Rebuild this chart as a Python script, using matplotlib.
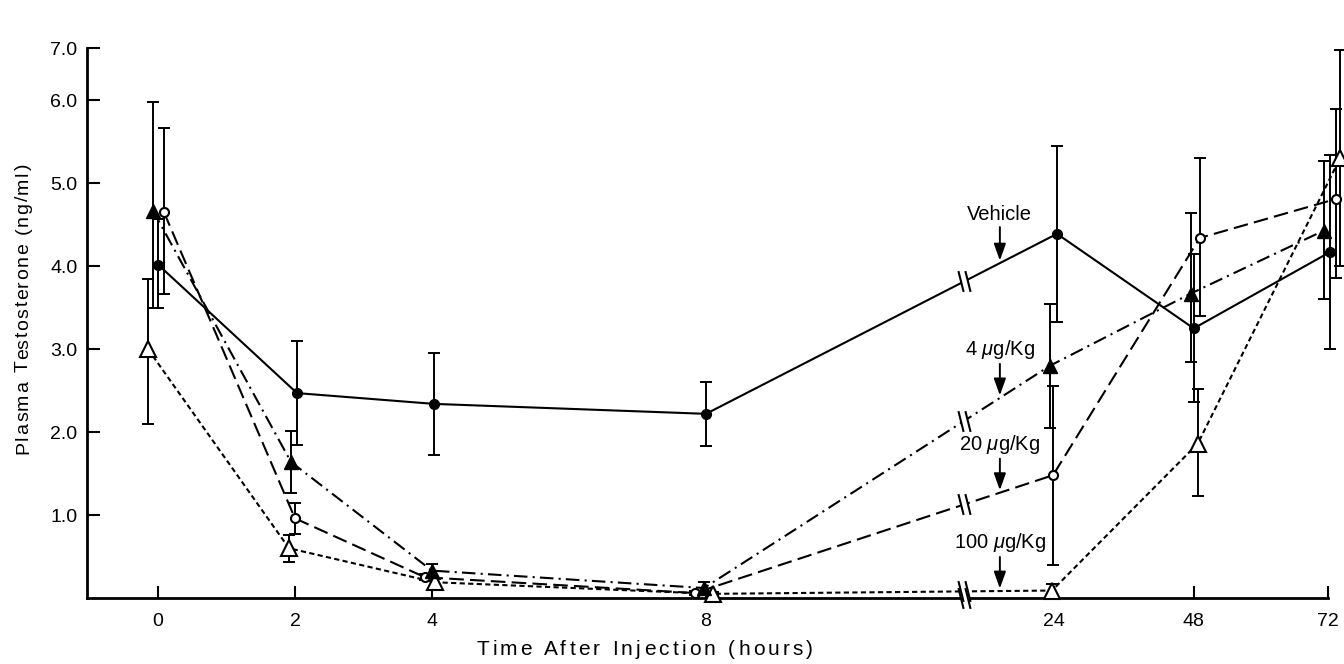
import numpy as np
import matplotlib
matplotlib.use("Agg")
import matplotlib.pyplot as plt
from matplotlib.path import Path
from matplotlib.font_manager import FontProperties

plt.rcParams['font.family'] = ['Liberation Sans', 'DejaVu Sans']
plt.rcParams['mathtext.fontset'] = 'custom'
plt.rcParams['mathtext.it'] = 'Liberation Sans:italic'
plt.rcParams['mathtext.rm'] = 'Liberation Sans'

# ---------------- data ----------------
times = [0, 2, 4, 8, 24, 48, 72]
tick_labels = ['0', '2', '4', '8', '24', '48', '72']

vehicle_mean = [4.02, 2.47, 2.34, 2.22, 4.39, 3.25, 4.17]
vehicle_lo = [3.50, 1.84, 1.72, 1.83, 3.33, 2.36, 3.00]
vehicle_hi = [4.57, 3.10, 2.95, 2.60, 5.45, 4.15, 5.34]

dose4_mean = [4.67, 1.64, 0.33, 0.12, 2.80, 3.67, 4.43]
dose4_lo = [3.50, 1.26, 0.26, 0.05, 2.05, 2.84, 3.60]
dose4_hi = [5.98, 2.01, 0.41, 0.19, 3.55, 4.64, 5.27]

dose20_mean = [4.65, 0.96, 0.25, 0.06, 1.48, 4.34, 4.81]
dose20_lo = [3.67, 0.77, 0.22, 0.04, 0.40, 3.40, 3.86]
dose20_hi = [5.67, 1.14, 0.29, 0.08, 2.56, 5.30, 5.90]

dose100_mean = [3.00, 0.60, 0.19, 0.05, 0.09, 1.86, 5.30]
dose100_lo = [2.10, 0.43, 0.15, 0.03, 0.02, 1.23, 4.00]
dose100_hi = [3.84, 0.76, 0.23, 0.07, 0.17, 2.52, 6.60]

series_labels = ['Vehicle', '4 $\\mu$g/Kg', '20 $\\mu$g/Kg', '100 $\\mu$g/Kg']
x_title = 'Time After Injection (hours)'
y_title = 'Plasma Testosterone (ng/ml)'

# ---------------- layout ----------------
# broken time axis: display position of each sampled time
time_pos = np.array([0, 2, 4, 8, 13.08, 15.12, 17.08])
px = 1 / 68.5  # axis units per pixel
vehicle_off = np.array([0, 2, 2, 0, 3, 0, 2]) * px
dose4_off = np.array([-5, -4, 0, -2, -4, -3, -4]) * px
dose20_off = np.array([6, 0, -7, -11, -1, 6, 8]) * px
dose100_off = np.array([-10, -6, 3, 7, -2, 4, 12]) * px
break_pos = 11.77
arrow_pos = 12.29

W, H = 1344, 664
fig = plt.figure(figsize=(W / 100, H / 100), dpi=100)
ax = fig.add_axes([87 / W, (H - 598) / H, (1328 - 87) / W, (598 - 48) / H])
ax.set_xlim(-1.036, 17.08)
ytop = 6.63
ax.set_ylim(0, ytop)

lw = 1.5
styles = [
    dict(ls='-', marker='o', ms=7, mfc='black', mec='black'),
    dict(ls=(0, (6.5, 2.5, 1, 2.5)), marker='^', ms=10.5, mfc='black', mec='black'),
    dict(ls=(0, (7, 3)), marker='o', ms=6.5, mfc='white', mec='black', mew=1.5),
    dict(ls=(0, (2.5, 1.6)), marker='^', ms=11, mfc='white', mec='black', mew=1.5),
]
means = [vehicle_mean, dose4_mean, dose20_mean, dose100_mean]
los = [vehicle_lo, dose4_lo, dose20_lo, dose100_lo]
his = [vehicle_hi, dose4_hi, dose20_hi, dose100_hi]
offs = [vehicle_off, dose4_off, dose20_off, dose100_off]

xs_all = []
for m, lo, hi, off, st, z in zip(means, los, his, offs, styles, [5, 4, 3, 2]):
    m = np.array(m); lo = np.array(lo); hi = np.array(hi)
    x = time_pos + off
    xs_all.append(x)
    ax.errorbar(x, m, yerr=[m - lo, hi - m], fmt='none', ecolor='black',
                elinewidth=1.4, capsize=4.5, capthick=1.4, zorder=z, clip_on=False)
    ax.plot(x, m, color='black', lw=lw, ls=st['ls'], zorder=z + 0.5, clip_on=False)
    ax.plot(x, m, ls='none', marker=st['marker'], ms=st['ms'], mfc=st['mfc'],
            mec=st['mec'], mew=st.get('mew', 1), zorder=z + 10, clip_on=False)

# break marks "\\" on each line between 8 and 24 h and on the x axis
mask = Path([(-0.35, 0.6), (0.05, 0.6), (0.35, -0.6), (-0.05, -0.6), (-0.35, 0.6)],
            [Path.MOVETO, Path.LINETO, Path.LINETO, Path.LINETO, Path.CLOSEPOLY])
strokes = Path([(-0.35, 0.6), (-0.05, -0.6), (0.05, 0.6), (0.35, -0.6)],
               [Path.MOVETO, Path.LINETO, Path.MOVETO, Path.LINETO])
break_ys = [np.interp(break_pos, x[3:5], np.array(m)[3:5]) for x, m in zip(xs_all, means)]
break_ys.append(0.0)
for yb in break_ys:
    ax.plot([break_pos], [yb], ls='none', marker=mask, ms=15, mfc='white', mec='none',
            zorder=30, clip_on=False)
    ax.plot([break_pos], [yb], ls='none', marker=strokes, ms=15, mfc='none', mec='black',
            mew=1.5, zorder=31, clip_on=False)

# labelled arrows
for x, m, lab in zip(xs_all, means, series_labels):
    ya = np.interp(arrow_pos, x[3:5], np.array(m)[3:5])
    ax.annotate(lab, xy=(arrow_pos, ya + 0.03), xytext=(0, 33), textcoords='offset points',
                ha='center', va='center', fontsize=14.5,
                arrowprops=dict(arrowstyle='-|>,head_length=0.7,head_width=0.25',
                                color='black', lw=1.4, shrinkA=0, shrinkB=0),
                zorder=40)

# axes styling
for s in ['top', 'right']:
    ax.spines[s].set_visible(False)
for s in ['left', 'bottom']:
    ax.spines[s].set_linewidth(2)
ax.set_xticks(time_pos)
ax.set_xticklabels(tick_labels)
yt = [1, 2, 3, 4, 5, 6, ytop]
ax.set_yticks(yt)
ax.set_yticklabels(['1.0', '2.0', '3.0', '4.0', '5.0', '6.0', '7.0'])
ax.tick_params(axis='both', direction='in', length=9, width=1.5, labelsize=14)
ax.tick_params(axis='x', pad=11)
ax.tick_params(axis='y', pad=7)


# letter-spaced axis titles (the original typeface is widely tracked)
def tracked_text(s, cx, cy, size, track, vertical=False):
    r = fig.canvas.get_renderer()
    prop = FontProperties(family='Liberation Sans', size=size)

    def w(t):
        return r.get_text_width_height_descent(t, prop, ismath=False)[0]
    ref = w('|')
    adv = [0.0] + [w(s[:i] + '|') - ref for i in range(1, len(s) + 1)]
    total = adv[-1] + track * (len(s) - 1)
    start = -total / 2
    for i, ch in enumerate(s):
        if ch == ' ':
            continue
        d = start + adv[i] + track * i
        if vertical:
            fig.text(cx / W, 1 - (cy - d) / H, ch, rotation=90, rotation_mode='anchor',
                     ha='left', va='baseline', fontproperties=prop)
        else:
            fig.text((cx + d) / W, 1 - cy / H, ch, ha='left', va='baseline',
                     fontproperties=prop)


tracked_text(y_title, 28, 309, 14, 1.6, vertical=True)
tracked_text(x_title, 645, 655, 15, 3.2)

fig.savefig('out.png', dpi=100)
